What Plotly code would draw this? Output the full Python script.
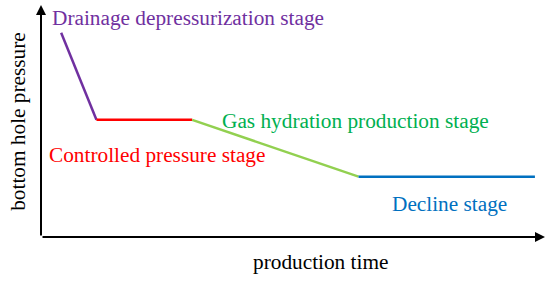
import plotly.graph_objects as go

# piecewise stages, arbitrary units (0-100 on both axes)
stage_names = ["Drainage depressurization stage", "Controlled pressure stage",
               "Gas hydration production stage", "Decline stage"]
time_pts = [4, 11, 30, 63, 98]
pressure_pts = [88, 50.5, 50.5, 26, 26]

LINE_COLORS = ["#7030a0", "#ff0000", "#92d050", "#0070c0"]
TEXT_COLORS = ["#7030a0", "#ff0000", "#00b050", "#0070c0"]
# label anchors in paper coords (left, middle)
LABEL_POS = [(0.018, 0.944), (0.012, 0.353), (0.355, 0.5), (0.692, 0.142)]

FONT = "Liberation Serif, Times New Roman, serif"
FS = 21.3

fig = go.Figure()
for i, name in enumerate(stage_names):
    fig.add_trace(go.Scatter(
        x=time_pts[i:i + 2], y=pressure_pts[i:i + 2], mode="lines",
        line=dict(color=LINE_COLORS[i], width=2.5), name=name,
        showlegend=False, hoverinfo="skip",
    ))
    px, py = LABEL_POS[i]
    fig.add_annotation(x=px, y=py, xref="paper", yref="paper", text=name,
                       showarrow=False, xanchor="left", yanchor="middle",
                       font=dict(family=FONT, size=FS, color=TEXT_COLORS[i]))

# axes drawn as arrows
for tx, ty in ((100, 0), (0, 100)):
    fig.add_annotation(x=tx, y=ty, ax=0, ay=0, xref="x", yref="y",
                       axref="x", ayref="y", text="", showarrow=True,
                       arrowhead=2, arrowsize=1, arrowwidth=2, arrowcolor="black")

fig.add_annotation(x=-0.046, y=0.5, xref="paper", yref="paper",
                   text="bottom hole pressure", textangle=-90, showarrow=False,
                   xanchor="center", yanchor="middle",
                   font=dict(family=FONT, size=FS, color="black"))
fig.add_annotation(x=0.554, y=-0.108, xref="paper", yref="paper",
                   text="production time", showarrow=False,
                   xanchor="center", yanchor="middle",
                   font=dict(family=FONT, size=FS, color="black"))

fig.update_xaxes(range=[0, 100], visible=False)
fig.update_yaxes(range=[0, 100], visible=False)
fig.update_layout(
    width=550, height=281,
    margin=dict(l=41, r=5, t=5, b=44),
    plot_bgcolor="white", paper_bgcolor="white",
)
# drop the page's default body margin so the figure sits at the window origin
fig.write_html("out.html", config={"displayModeBar": False},
               post_script="document.body.style.margin='0';")
